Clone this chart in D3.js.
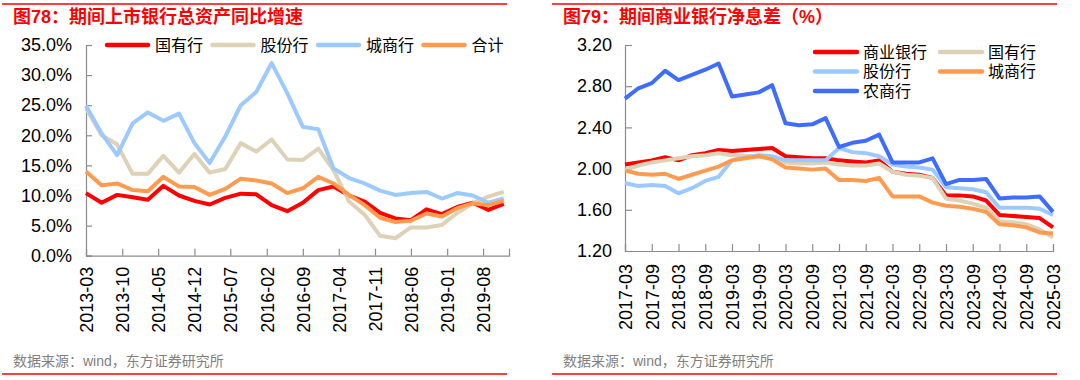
<!DOCTYPE html>
<html>
<head>
<meta charset="utf-8">
<script src="https://cdn.jsdelivr.net/npm/d3@7"></script>
<style>
  body { margin: 0; background: #fff; }
  svg { display: block; font-family: "Liberation Sans", Arial, "Noto Sans CJK SC", sans-serif; }
  .axis path, .axis line { stroke: #8c8c8c; stroke-width: 1.2; }
  .axis text { font-size: 18px; fill: #000; }
  .legend text { font-size: 16px; fill: #000; }
</style>
</head>
<body>
<svg width="1080" height="380"></svg>
<script>
// ---- left chart data (quarterly, % yoy) ----
const leftDates = ["2013-03","2013-06","2013-09","2013-12","2014-03","2014-06","2014-09","2014-12",
  "2015-03","2015-06","2015-09","2015-12","2016-03","2016-06","2016-09","2016-12",
  "2017-03","2017-06","2017-09","2017-12","2018-03","2018-06","2018-09","2018-12",
  "2019-03","2019-06","2019-09","2019-12"];
const leftTicks = ["2013-03","2013-10","2014-05","2014-12","2015-07","2016-02","2016-09",
  "2017-04","2017-11","2018-06","2019-01","2019-08"];
const soeGrowth = [10.4,8.8,10.1,9.7,9.3,11.6,10.0,9.1,8.5,9.6,10.3,10.2,8.4,7.4,8.8,10.9,
  11.5,10.0,9.0,7.1,6.2,5.9,7.7,6.9,8.1,8.8,7.6,8.6];
const jsbGrowth = [24.5,20.0,18.5,13.6,13.6,16.6,13.8,16.9,13.8,14.4,18.7,17.3,19.3,16.0,15.9,17.8,
  14.2,9.0,6.8,3.3,2.9,4.7,4.7,5.1,7.1,8.7,9.8,10.6];
const cityGrowth = [24.9,20.3,16.7,22.0,23.8,22.4,23.6,18.7,15.4,19.8,25.0,27.2,32.0,27.0,21.4,21.0,
  14.5,12.9,12.0,10.8,10.1,10.4,10.6,9.5,10.4,10.0,8.8,9.5];
const totalGrowth = [14.0,11.7,12.0,10.9,10.7,13.1,11.5,11.4,10.1,11.1,12.8,12.5,12.0,10.4,11.2,13.1,
  12.0,10.1,8.4,6.3,5.6,5.8,7.0,6.5,7.9,8.7,8.4,9.1];

// ---- right chart data (quarterly NIM, %) ----
const rightDates = ["2017-03","2017-06","2017-09","2017-12","2018-03","2018-06","2018-09","2018-12",
  "2019-03","2019-06","2019-09","2019-12","2020-03","2020-06","2020-09","2020-12",
  "2021-03","2021-06","2021-09","2021-12","2022-03","2022-06","2022-09","2022-12",
  "2023-03","2023-06","2023-09","2023-12","2024-03","2024-06","2024-09","2024-12","2025-03"];
const nimAll = [2.04,2.06,2.08,2.11,2.08,2.13,2.15,2.18,2.17,2.18,2.19,2.20,2.12,2.11,2.10,2.10,
  2.08,2.07,2.06,2.08,1.97,1.95,1.94,1.91,1.74,1.74,1.73,1.69,1.55,1.54,1.53,1.52,1.43];
const nimSoe = [1.99,2.03,2.06,2.08,2.10,2.12,2.13,2.15,2.13,2.12,2.12,2.10,2.06,2.05,2.05,2.06,
  2.04,2.03,2.03,2.05,1.97,1.94,1.93,1.91,1.71,1.69,1.66,1.62,1.49,1.48,1.46,1.41,1.33];
const nimJsb = [1.86,1.83,1.84,1.83,1.76,1.81,1.88,1.92,2.08,2.11,2.13,2.12,2.08,2.08,2.08,2.08,
  2.20,2.16,2.15,2.12,2.04,2.02,2.01,1.99,1.82,1.81,1.80,1.77,1.62,1.62,1.62,1.61,1.55];
const nimCity = [1.98,1.95,1.94,1.95,1.90,1.94,1.98,2.02,2.08,2.10,2.12,2.09,2.01,2.00,1.99,2.00,
  1.89,1.89,1.88,1.91,1.73,1.73,1.73,1.67,1.64,1.63,1.61,1.58,1.46,1.45,1.43,1.38,1.37];
const nimRural = [2.68,2.78,2.83,2.95,2.86,2.91,2.96,3.02,2.70,2.72,2.74,2.81,2.44,2.42,2.43,2.49,
  2.21,2.25,2.27,2.33,2.06,2.06,2.06,2.10,1.85,1.89,1.89,1.90,1.71,1.72,1.72,1.73,1.58];

const leftSeries = [
  {name: "国有行", values: soeGrowth, color: "#ff0000"},
  {name: "股份行", values: jsbGrowth, color: "#ddd1b6"},
  {name: "城商行", values: cityGrowth, color: "#9ccaff"},
  {name: "合计", values: totalGrowth, color: "#ff9b4f"}
];
const rightSeries = [
  {name: "商业银行", values: nimAll, color: "#ff0000"},
  {name: "国有行", values: nimSoe, color: "#ddd1b6"},
  {name: "股份行", values: nimJsb, color: "#9ccaff"},
  {name: "城商行", values: nimCity, color: "#ff9b4f"},
  {name: "农商行", values: nimRural, color: "#3f6dfb"}
];

const svg = d3.select("svg");
const parse = d3.timeParse("%Y-%m");

// red rules, title and source note of each panel
const drawFrame = (x0, x1, title) => {
  svg.append("line").attr("x1", x0).attr("x2", x1).attr("y1", 4).attr("y2", 4)
    .attr("stroke", "#ff0000").attr("stroke-width", 1.5);
  svg.append("line").attr("x1", x0).attr("x2", x1).attr("y1", 374).attr("y2", 374)
    .attr("stroke", "#ff0000").attr("stroke-width", 1.5);
  svg.append("text").attr("x", x0 + 11).attr("y", 23)
    .attr("fill", "#ff0000").attr("font-size", 18).attr("font-weight", "bold")
    .text(title);
  svg.append("text").attr("x", x0 + 11).attr("y", 366)
    .attr("fill", "#7f7f7f").attr("font-size", 14)
    .text("数据来源：wind，东方证券研究所");
};

drawFrame(2, 507, "图78：期间上市银行总资产同比增速");
drawFrame(552, 1057, "图79：期间商业银行净息差（%）");

// ---- left chart ----
const xL = d3.scaleTime()
    .domain([parse("2013-03"), parse("2020-01")])
    .range([86, 509]);
const yL = d3.scaleLinear()
    .domain([0, 35])
    .range([255.7, 45]);

svg.append("g")
    .attr("class", "axis")
    .attr("transform", "translate(86,0)")
    .call(d3.axisLeft(yL).tickValues(d3.range(0, 36, 5)).tickSize(-6).tickPadding(14)
      .tickFormat((d) => d.toFixed(1) + "%"));

svg.append("g")
    .attr("class", "axis")
    .attr("transform", "translate(0,255.7)")
    .call(d3.axisBottom(xL).tickValues(leftTicks.map(parse)).tickSize(-7)
      .tickFormat(d3.timeFormat("%Y-%m")))
    .selectAll("text")
      .attr("transform", "rotate(-90)")
      .attr("text-anchor", "end")
      .attr("x", -11)
      .attr("y", 0)
      .attr("dy", "0.35em");

const lineL = d3.line()
    .x((d, i) => xL(parse(leftDates[i])))
    .y((d) => yL(d));

svg.append("g")
  .selectAll("path")
  .data(leftSeries)
  .enter().append("path")
    .attr("d", (s) => lineL(s.values))
    .attr("fill", "none")
    .attr("stroke", (s) => s.color)
    .attr("stroke-width", 4)
    .attr("stroke-linejoin", "round");

const legL = svg.append("g").attr("class", "legend")
  .selectAll("g")
  .data(leftSeries)
  .enter().append("g")
    .attr("transform", (s, i) => `translate(${107 + i * 105.5},45)`);
legL.append("line").attr("x1", 0).attr("x2", 41)
    .attr("stroke", (s) => s.color).attr("stroke-width", 4.5).attr("stroke-linecap", "round");
legL.append("text").attr("x", 48).attr("dy", "0.35em").text((s) => s.name);

// ---- right chart ----
const xR = d3.scalePoint()
    .domain(rightDates)
    .range([625, 1053]);
const yR = d3.scaleLinear()
    .domain([1.2, 3.2])
    .range([251, 45]);

svg.append("g")
    .attr("class", "axis")
    .attr("transform", "translate(625,0)")
    .call(d3.axisLeft(yR).tickValues(d3.range(1.2, 3.21, 0.4)).tickSize(-7).tickPadding(13)
      .tickFormat(d3.format(".2f")));

svg.append("g")
    .attr("class", "axis")
    .attr("transform", "translate(0,251)")
    .call(d3.axisBottom(xR).tickValues(rightDates.filter((d, i) => i % 2 === 0)).tickSize(-7))
    .selectAll("text")
      .attr("transform", "rotate(-90)")
      .attr("text-anchor", "end")
      .attr("x", -13)
      .attr("y", 0)
      .attr("dy", "0.35em");

const lineR = d3.line()
    .x((d, i) => xR(rightDates[i]))
    .y((d) => yR(d));

svg.append("g")
  .selectAll("path")
  .data(rightSeries)
  .enter().append("path")
    .attr("d", (s) => lineR(s.values))
    .attr("fill", "none")
    .attr("stroke", (s) => s.color)
    .attr("stroke-width", 4)
    .attr("stroke-linejoin", "round");

const legR = svg.append("g").attr("class", "legend")
  .selectAll("g")
  .data(rightSeries)
  .enter().append("g")
    .attr("transform", (s, i) => `translate(${815 + (i % 2) * 125},${52 + Math.floor(i / 2) * 19.5})`);
legR.append("line").attr("x1", 0).attr("x2", 42)
    .attr("stroke", (s) => s.color).attr("stroke-width", 4.5).attr("stroke-linecap", "round");
legR.append("text").attr("x", 48).attr("dy", "0.35em").text((s) => s.name);
</script>
</body>
</html>
